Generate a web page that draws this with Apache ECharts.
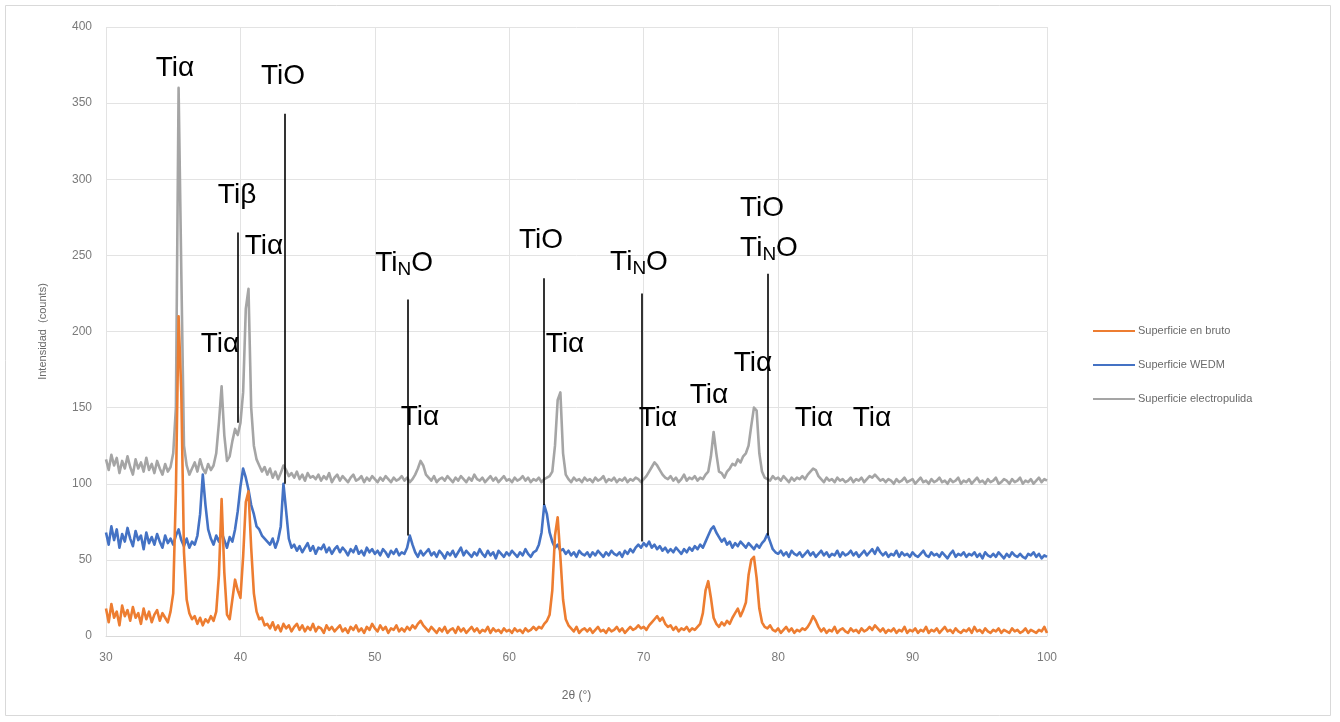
<!DOCTYPE html>
<html>
<head>
<meta charset="utf-8">
<script src="https://cdn.jsdelivr.net/npm/echarts@6/dist/echarts.min.js"></script>
<style>
  html, body { margin: 0; padding: 0; background: #ffffff; }
  #chart { width: 1340px; height: 722px; }
</style>
</head>
<body>
<div id="chart"></div>
<script>
// XRD scans: 2θ from 30° to 100° in 0.2° steps, one row per 2°
const seriesNames = ['Superficie en bruto', 'Superficie WEDM', 'Superficie electropulida'];
const scanStart = 30;
const scanStep = 0.2;

const brutoCounts = [
  /* 30 */ 18, 9, 21, 12, 16, 7, 20, 13, 17, 10,
  /* 32 */ 19, 12, 15, 8, 18, 11, 16, 9, 14, 17,
  /* 34 */ 10, 15, 12, 9, 16, 28, 95, 210, 160, 55,
  /* 36 */ 24, 15, 11, 13, 8, 12, 7, 11, 9, 13,
  /* 38 */ 10, 16, 40, 90, 42, 14, 11, 24, 37, 30,
  /* 40 */ 25, 52, 88, 95, 58, 28, 16, 11, 12, 7,
  /* 42 */ 8, 5, 9, 4, 7, 3, 8, 5, 7, 3,
  /* 44 */ 6, 8, 4, 7, 3, 6, 4, 8, 3, 6,
  /* 46 */ 5, 2, 7, 4, 6, 3, 5, 7, 3, 5,
  /* 48 */ 2, 6, 4, 7, 3, 5, 2, 6, 4, 8,
  /* 50 */ 5, 3, 7, 4, 6, 2, 5, 4, 7, 3,
  /* 52 */ 5, 3, 6, 4, 7, 5, 8, 10, 7, 5,
  /* 54 */ 3, 6, 4, 2, 5, 3, 6, 2, 4, 5,
  /* 56 */ 2, 6, 3, 5, 2, 4, 6, 3, 5, 2,
  /* 58 */ 4, 3, 6, 2, 5, 3, 4, 2, 5, 3,
  /* 60 */ 4, 2, 5, 3, 4, 2, 5, 3, 4, 6,
  /* 62 */ 4, 6, 5, 8, 10, 14, 30, 66, 78, 52,
  /* 64 */ 24, 11, 7, 5, 3, 6, 2, 4, 5, 3,
  /* 66 */ 5, 2, 4, 6, 3, 4, 2, 5, 3, 4,
  /* 68 */ 6, 3, 5, 2, 4, 6, 4, 5, 7, 5,
  /* 70 */ 6, 4, 7, 9, 11, 13, 10, 12, 8, 6,
  /* 72 */ 7, 4, 6, 3, 5, 4, 6, 3, 5, 4,
  /* 74 */ 6, 8, 15, 30, 36, 25, 12, 8, 6, 9,
  /* 76 */ 7, 10, 8, 12, 15, 18, 13, 17, 22, 40,
  /* 78 */ 50, 52, 38, 18, 9, 6, 5, 7, 4, 3,
  /* 80 */ 5, 2, 4, 6, 3, 5, 2, 4, 3, 5,
  /* 82 */ 4, 6, 9, 13, 10, 6, 3, 5, 2, 4,
  /* 84 */ 3, 6, 2, 4, 5, 3, 2, 5, 3, 4,
  /* 86 */ 2, 5, 3, 4, 6, 4, 7, 5, 3, 5,
  /* 88 */ 2, 4, 3, 5, 2, 4, 3, 6, 2, 4,
  /* 90 */ 3, 5, 2, 4, 3, 6, 2, 4, 3, 5,
  /* 92 */ 2, 4, 6, 3, 4, 2, 5, 3, 2, 4,
  /* 94 */ 3, 5, 2, 6, 3, 4, 2, 5, 3, 2,
  /* 96 */ 4, 3, 5, 2, 4, 3, 2, 5, 3, 4,
  /* 98 */ 2, 3, 5, 2, 4, 3, 2, 4, 3, 6,
  /* 100 */ 2
];

const wedmCounts = [
  /* 30 */ 68, 60, 72, 63, 70, 58, 67, 62, 71, 64,
  /* 32 */ 59, 69, 63, 66, 57, 68, 61, 65, 60, 67,
  /* 34 */ 62, 58, 66, 61, 64, 60, 66, 70, 63, 59,
  /* 36 */ 64, 58, 62, 60, 66, 80, 106, 86, 70, 64,
  /* 38 */ 60, 66, 62, 68, 63, 58, 65, 62, 70, 82,
  /* 40 */ 98, 110, 104, 96, 86, 80, 72, 70, 66, 64,
  /* 42 */ 62, 60, 64, 58, 63, 72, 100, 82, 64, 58,
  /* 44 */ 60, 56, 59, 55, 58, 61, 56, 59, 54, 58,
  /* 46 */ 57, 60, 55, 58, 54, 57, 59, 55, 58, 56,
  /* 48 */ 53, 57, 55, 59, 54, 56, 53, 58, 55, 57,
  /* 50 */ 54, 56, 53, 57, 55, 52, 56, 54, 57, 53,
  /* 52 */ 55, 54, 58, 66, 60, 55, 52, 56, 53, 55,
  /* 54 */ 57, 53, 55, 52, 56, 54, 51, 55, 53, 56,
  /* 56 */ 52, 55, 58, 53, 56, 54, 52, 55, 53, 57,
  /* 58 */ 54, 52, 56, 53, 55, 51, 56, 54, 52, 55,
  /* 60 */ 53, 56, 54, 52, 55, 53, 57, 54, 52, 55,
  /* 62 */ 56, 60, 68, 86, 80, 68, 62, 58, 60, 56,
  /* 64 */ 57, 54, 56, 53, 55, 52, 56, 54, 53, 55,
  /* 66 */ 52, 55, 53, 56, 54, 52, 55, 53, 56, 54,
  /* 68 */ 53, 55, 52, 56, 54, 57, 55, 58, 60, 58,
  /* 70 */ 61, 59, 62, 58, 60, 57, 59, 56, 58, 55,
  /* 72 */ 57, 55, 58, 56, 54, 57, 55, 58, 56, 59,
  /* 74 */ 57, 60, 58, 62, 66, 70, 72, 68, 65, 62,
  /* 76 */ 64, 60, 62, 58, 61, 59, 62, 60, 58, 61,
  /* 78 */ 59, 57, 60, 58, 61, 63, 67, 62, 57, 55,
  /* 80 */ 54, 56, 53, 55, 52, 56, 54, 53, 55, 52,
  /* 82 */ 54, 56, 53, 55, 52, 54, 56, 53, 55, 52,
  /* 84 */ 54, 53, 56, 52, 55, 53, 54, 56, 53, 55,
  /* 86 */ 52, 54, 56, 53, 55, 57, 54, 58, 55, 53,
  /* 88 */ 55, 52, 54, 53, 56, 52, 55, 53, 54, 52,
  /* 90 */ 55, 53, 52, 54, 56, 53, 52, 55, 53, 54,
  /* 92 */ 52, 55, 53, 51, 54, 56, 52, 54, 53, 55,
  /* 94 */ 52, 54, 53, 55, 52, 54, 51, 55, 53, 52,
  /* 96 */ 54, 52, 55, 53, 51, 54, 52, 55, 53, 52,
  /* 98 */ 54, 52, 51, 54, 53, 55, 52, 54, 51, 53,
  /* 100 */ 52
];

const electroCounts = [
  /* 30 */ 116, 109, 119, 112, 117, 107, 115, 110, 118, 111,
  /* 32 */ 106, 116, 110, 114, 108, 117, 109, 113, 107, 115,
  /* 34 */ 110, 106, 113, 108, 111, 120, 150, 360, 240, 125,
  /* 36 */ 112, 106, 110, 114, 108, 116, 110, 107, 113, 109,
  /* 38 */ 112, 120, 140, 164, 132, 115, 118, 128, 136, 132,
  /* 40 */ 140, 160, 215, 228, 150, 125, 116, 112, 108, 111,
  /* 42 */ 106, 110, 104, 108, 103, 107, 112, 109, 105, 107,
  /* 44 */ 104, 108, 103, 106, 102, 107, 104, 105, 103, 106,
  /* 46 */ 102, 105, 103, 107, 101, 104, 106, 102, 105, 103,
  /* 48 */ 101, 104, 106, 102, 103, 105, 101, 104, 102, 105,
  /* 50 */ 103, 101, 104, 102, 105, 103, 101, 104, 102, 103,
  /* 52 */ 105, 102, 104, 101, 103, 106, 110, 115, 112, 106,
  /* 54 */ 104, 102, 105, 101, 103, 104, 102, 105, 103, 101,
  /* 56 */ 104, 102, 105, 103, 101, 104, 102, 106, 103, 102,
  /* 58 */ 104, 101, 103, 105, 102, 104, 101, 103, 105, 102,
  /* 60 */ 103, 101, 104, 102, 103, 105, 102, 104, 101, 103,
  /* 62 */ 102, 104, 101, 103, 104, 105, 108, 125, 155, 160,
  /* 64 */ 120, 106, 103, 101, 104, 102, 103, 101, 104, 102,
  /* 66 */ 103, 101, 104, 102, 103, 105, 101, 103, 102, 104,
  /* 68 */ 101, 103, 102, 104, 101, 103, 102, 104, 103, 101,
  /* 70 */ 103, 105, 108, 111, 114, 112, 109, 106, 104, 103,
  /* 72 */ 105, 102, 104, 101, 103, 106, 102, 104, 103, 105,
  /* 74 */ 102, 104, 103, 106, 108, 118, 134, 120, 108, 107,
  /* 76 */ 104, 108, 110, 113, 112, 116, 114, 118, 120, 125,
  /* 78 */ 138, 150, 148, 120, 108, 104, 103, 102, 105, 103,
  /* 80 */ 104, 102, 105, 103, 101, 104, 102, 104, 103, 105,
  /* 82 */ 103, 106, 108, 110, 109, 105, 103, 101, 104, 102,
  /* 84 */ 103, 101, 104, 102, 103, 101, 102, 104, 101, 103,
  /* 86 */ 102, 104, 101, 103, 105, 104, 106, 104, 102, 103,
  /* 88 */ 101, 103, 102, 100, 103, 101, 102, 104, 101, 102,
  /* 90 */ 103, 100, 102, 104, 101, 102, 100, 103, 101, 102,
  /* 92 */ 104, 101, 102, 100, 103, 101, 102, 104, 100, 102,
  /* 94 */ 101, 103, 100, 102, 104, 101, 102, 100, 103, 101,
  /* 96 */ 102, 104, 100, 101, 103, 102, 100, 103, 101, 102,
  /* 98 */ 104, 100, 102, 101, 103, 100, 102, 104, 101, 103,
  /* 100 */ 102
];

// Phase reference lines: [2θ, lower intensity, upper intensity]
const phaseLines = [
  [39.82, 140, 265],
  [43.3, 100, 343],
  [52.47, 66, 221],
  [62.58, 86, 235],
  [69.87, 62, 225],
  [79.25, 66, 238]
];

// Phase labels: [2θ, intensity, phase]
const phaseLabels = [
  [35.13, 372, 'Tiα'],
  [43.17, 367, 'TiO'],
  [39.75, 289, 'Tiβ'],
  [41.75, 255, 'Tiα'],
  [38.48, 191, 'Tiα'],
  [52.17, 244, 'TiNO'],
  [53.36, 143, 'Tiα'],
  [62.36, 259, 'TiO'],
  [64.15, 191, 'Tiα'],
  [69.65, 245, 'TiNO'],
  [71.06, 142.5, 'Tiα'],
  [74.86, 157.6, 'Tiα'],
  [78.13, 178.7, 'Tiα'],
  [78.8, 280.5, 'TiO'],
  [79.32, 254, 'TiNO'],
  [82.67, 142.5, 'Tiα'],
  [86.98, 142.5, 'Tiα']
];

const seriesColors = ['#ED7D31', '#4472C4', '#A5A5A5'];
const axisFont = 'Liberation Sans';
const labelFont = 'Liberation Sans';

function toScan(counts) {
  return counts.map((c, i) => [+(scanStart + i * scanStep).toFixed(2), c]);
}

function phaseText(name) {
  if (name === 'TiNO') return '{t|Ti}{s|N}{t|O}';
  return '{t|' + name + '}';
}

const chart = echarts.init(document.getElementById('chart'), null, { renderer: 'canvas' });

const scans = [brutoCounts, wedmCounts, electroCounts];
const zOrder = [4, 3, 2];

const lineSeries = seriesNames.map((name, k) => ({
  name: name,
  type: 'line',
  data: toScan(scans[k]),
  showSymbol: false,
  symbol: 'none',
  z: zOrder[k],
  lineStyle: { color: seriesColors[k], width: 2.6, join: 'round' },
  itemStyle: { color: seriesColors[k] },
  silent: true
}));

chart.setOption({
  animation: false,
  backgroundColor: '#ffffff',
  graphic: [{
    type: 'rect',
    shape: { x: 5.5, y: 5.5, width: 1325, height: 710 },
    style: { fill: 'none', stroke: '#d9d9d9', lineWidth: 1 },
    silent: true
  }],
  grid: { left: 106, right: 293, top: 27, bottom: 86 },
  legend: {
    data: seriesNames.map(n => ({ name: n, icon: 'rect' })),
    orient: 'vertical',
    left: 1088,
    top: 319,
    itemWidth: 42,
    itemHeight: 2,
    itemGap: 20,
    textStyle: { color: '#6a6a6a', fontSize: 11, fontFamily: axisFont, lineHeight: 14, padding: [0, 0, 0, -2] }
  },
  xAxis: {
    type: 'value',
    min: 30,
    max: 100,
    interval: 10,
    name: '2θ (°)',
    nameLocation: 'middle',
    nameGap: 54,
    nameTextStyle: { color: '#6a6a6a', fontSize: 12, fontFamily: axisFont },
    axisLine: { show: true, onZero: false, lineStyle: { color: '#d9d9d9', width: 1 } },
    axisTick: { show: false },
    axisLabel: { color: '#7a7a7a', fontSize: 12, fontFamily: axisFont, margin: 16 },
    splitLine: { show: true, lineStyle: { color: '#e3e3e3', width: 1 } }
  },
  yAxis: {
    type: 'value',
    min: 0,
    max: 400,
    interval: 50,
    name: 'Intensidad  (counts)',
    nameLocation: 'middle',
    nameGap: 58,
    nameTextStyle: { color: '#6a6a6a', fontSize: 11, fontFamily: axisFont },
    axisLine: { show: false },
    axisTick: { show: false },
    axisLabel: { color: '#7a7a7a', fontSize: 12, fontFamily: axisFont, margin: 14 },
    splitLine: { show: true, lineStyle: { color: '#e3e3e3', width: 1 } }
  },
  series: lineSeries.concat([{
    name: 'fases',
    type: 'scatter',
    z: 6,
    silent: true,
    symbolSize: 0,
    itemStyle: { opacity: 1 },
    data: phaseLabels.map(p => ({ value: [p[0], p[1]], phase: p[2] })),
    label: {
      show: true,
      position: 'inside',
      color: '#000',
      opacity: 1,
      formatter: params => phaseText(params.data.phase),
      rich: {
        t: { fontSize: 28, fontFamily: labelFont, color: '#000', lineHeight: 30, verticalAlign: 'top' },
        s: { fontSize: 19, fontFamily: labelFont, color: '#000', lineHeight: 20, padding: [16, 0, 0, 0], verticalAlign: 'bottom' }
      }
    },
    markLine: {
      silent: true,
      symbol: 'none',
      animation: false,
      label: { show: false },
      lineStyle: { color: '#000', width: 1.6, type: 'solid', opacity: 1 },
      data: phaseLines.map(l => [{ coord: [l[0], l[1]] }, { coord: [l[0], l[2]] }])
    }
  }])
});
</script>
</body>
</html>
